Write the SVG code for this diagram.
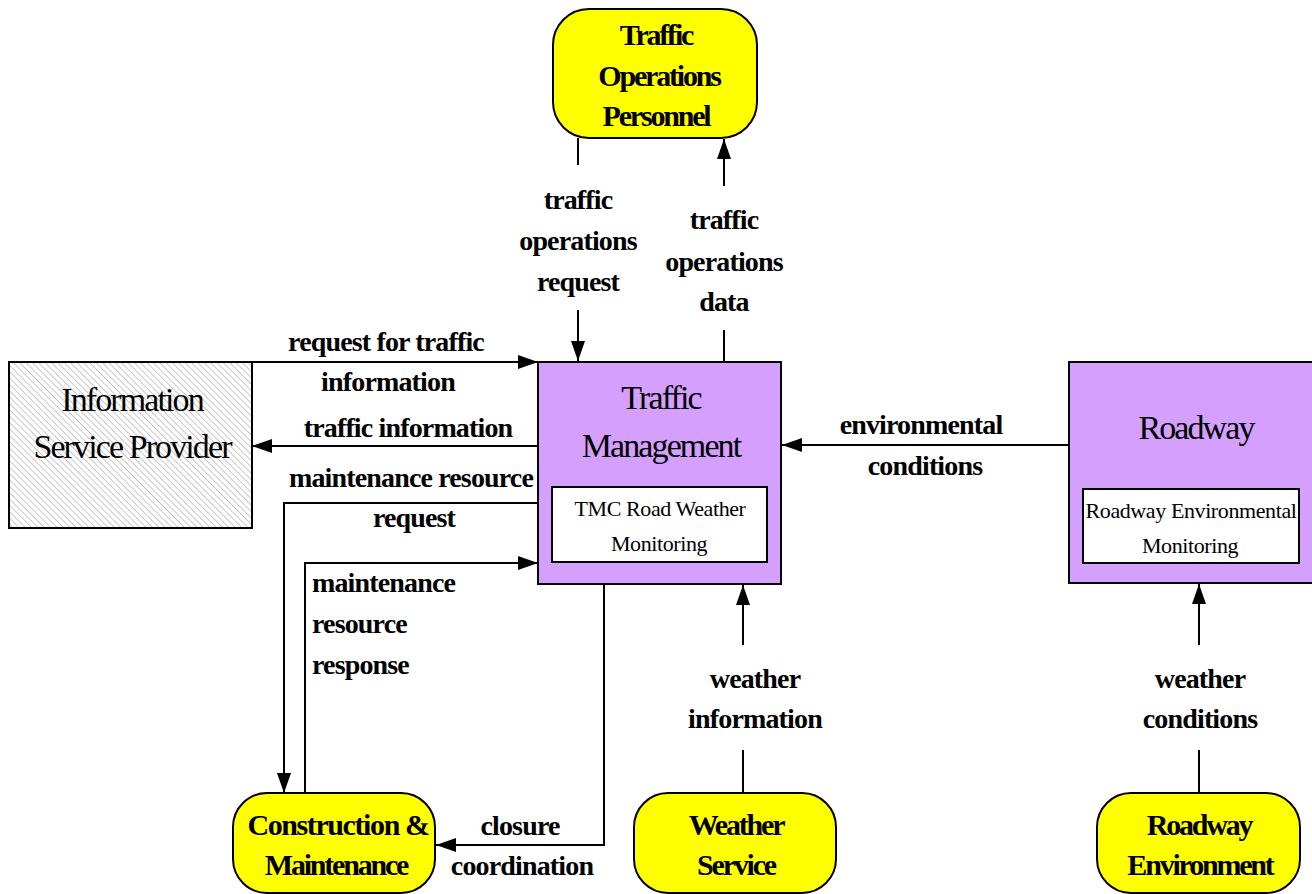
<svg xmlns="http://www.w3.org/2000/svg" width="1312" height="894" viewBox="0 0 1312 894">
<style>
.lbl{font-family:"Liberation Serif","Times New Roman",serif;font-weight:bold;font-size:28px;letter-spacing:-0.85px;fill:#000;text-anchor:middle}
.term{font-family:"Liberation Serif","Times New Roman",serif;font-weight:bold;font-size:30px;letter-spacing:-2.2px;fill:#000;text-anchor:middle}
.sys{font-family:"Liberation Serif","Times New Roman",serif;font-size:34px;letter-spacing:-1.9px;fill:#000;text-anchor:middle}
.sub{font-family:"Liberation Serif","Times New Roman",serif;font-size:22px;letter-spacing:-0.4px;fill:#000;text-anchor:middle}
.termbox{fill:#ffff00;stroke:#000;stroke-width:2}
.sysbox{fill:#d49ffd;stroke:#000;stroke-width:2}
.subbox{fill:#fff;stroke:#000;stroke-width:2}
.conn{fill:none;stroke:#000;stroke-width:2}
</style>
<defs>
<marker id="arr" markerUnits="userSpaceOnUse" markerWidth="20" markerHeight="14" refX="20" refY="7" orient="auto">
<path d="M0,0 L20,7 L0,14 Z" fill="#000"/>
</marker>
<pattern id="hatch" patternUnits="userSpaceOnUse" width="4.5" height="4.5" patternTransform="rotate(-45)">
<rect width="4.5" height="4.5" fill="#fff"/>
<line x1="0" y1="0" x2="0" y2="4.5" stroke="#a6a6a6" stroke-width="1.2"/>
</pattern>
</defs>
<rect width="1312" height="894" fill="#fff"/>

<g id="connectors">
<g id="c-request-traffic-info">
<path class="conn" d="M252,362 L538,362" marker-end="url(#arr)"/>
<text class="lbl" x="386" y="351">request for traffic</text>
<text class="lbl" x="388" y="391">information</text>
</g>
<g id="c-traffic-info">
<path class="conn" d="M538,446 L252,446" marker-end="url(#arr)"/>
<text class="lbl" x="408" y="437">traffic information</text>
</g>
<g id="c-maint-request">
<path class="conn" d="M538,503 L284,503 L284,793" marker-end="url(#arr)"/>
<text class="lbl" x="411" y="487">maintenance resource</text>
<text class="lbl" x="414" y="527">request</text>
</g>
<g id="c-maint-response">
<path class="conn" d="M305,793 L305,563 L538,563" marker-end="url(#arr)"/>
<text class="lbl" x="312" y="592" style="text-anchor:start">maintenance</text>
<text class="lbl" x="312" y="633" style="text-anchor:start">resource</text>
<text class="lbl" x="312" y="674" style="text-anchor:start">response</text>
</g>
<g id="c-closure">
<path class="conn" d="M604,584 L604,845 L436,845" marker-end="url(#arr)"/>
<text class="lbl" x="520" y="835">closure</text>
<text class="lbl" x="522" y="875">coordination</text>
</g>
<g id="c-ops-request">
<path class="conn" d="M578,138 L578,165"/>
<path class="conn" d="M578,310 L578,361" marker-end="url(#arr)"/>
<text class="lbl" x="578" y="209">traffic</text>
<text class="lbl" x="578" y="250">operations</text>
<text class="lbl" x="578" y="291">request</text>
</g>
<g id="c-ops-data">
<path class="conn" d="M724,362 L724,330"/>
<path class="conn" d="M724,186 L724,139" marker-end="url(#arr)"/>
<text class="lbl" x="724" y="229">traffic</text>
<text class="lbl" x="724" y="271">operations</text>
<text class="lbl" x="724" y="311">data</text>
</g>
<g id="c-env-conditions">
<path class="conn" d="M1069,445 L782,445" marker-end="url(#arr)"/>
<text class="lbl" x="921" y="434">environmental</text>
<text class="lbl" x="925" y="475">conditions</text>
</g>
<g id="c-weather-info">
<path class="conn" d="M743,793 L743,750"/>
<path class="conn" d="M743,645 L743,585" marker-end="url(#arr)"/>
<text class="lbl" x="755" y="688">weather</text>
<text class="lbl" x="755" y="728">information</text>
</g>
<g id="c-weather-conditions">
<path class="conn" d="M1199,793 L1199,750"/>
<path class="conn" d="M1199,645 L1199,584" marker-end="url(#arr)"/>
<text class="lbl" x="1200" y="688">weather</text>
<text class="lbl" x="1200" y="728">conditions</text>
</g>
</g>

<g id="node-traffic-ops-personnel">
<rect class="termbox" x="553" y="9" width="204" height="129" rx="36" ry="36"/>
<text class="term" x="656" y="45">Traffic</text>
<text class="term" x="659" y="86">Operations</text>
<text class="term" x="656" y="126">Personnel</text>
</g>

<g id="node-isp">
<rect x="9" y="362" width="243" height="166" fill="url(#hatch)" stroke="#000" stroke-width="2"/>
<text class="sys" x="132" y="411">Information</text>
<text class="sys" x="132" y="458">Service Provider</text>
</g>

<g id="node-traffic-management">
<rect class="sysbox" x="538" y="362" width="243" height="222"/>
<text class="sys" x="661" y="409">Traffic</text>
<text class="sys" x="661" y="457">Management</text>
<rect class="subbox" x="552" y="487" width="215" height="75"/>
<text class="sub" x="660" y="516">TMC Road Weather</text>
<text class="sub" x="659" y="551">Monitoring</text>
</g>

<g id="node-roadway">
<rect class="sysbox" x="1069" y="362" width="250" height="221"/>
<text class="sys" x="1196" y="439">Roadway</text>
<rect class="subbox" x="1083" y="489" width="216" height="74"/>
<text class="sub" x="1191" y="518">Roadway Environmental</text>
<text class="sub" x="1190" y="553">Monitoring</text>
</g>

<g id="node-construction">
<rect class="termbox" x="233" y="793" width="202" height="100" rx="34" ry="34"/>
<text class="term" x="338" y="835" style="letter-spacing:-1.4px">Construction &amp;</text>
<text class="term" x="336" y="875">Maintenance</text>
</g>

<g id="node-weather-service">
<rect class="termbox" x="634" y="793" width="202" height="100" rx="34" ry="34"/>
<text class="term" x="736" y="835">Weather</text>
<text class="term" x="736" y="875">Service</text>
</g>

<g id="node-roadway-environment">
<rect class="termbox" x="1097" y="793" width="203" height="100" rx="34" ry="34"/>
<text class="term" x="1199" y="835">Roadway</text>
<text class="term" x="1200" y="875">Environment</text>
</g>
</svg>
